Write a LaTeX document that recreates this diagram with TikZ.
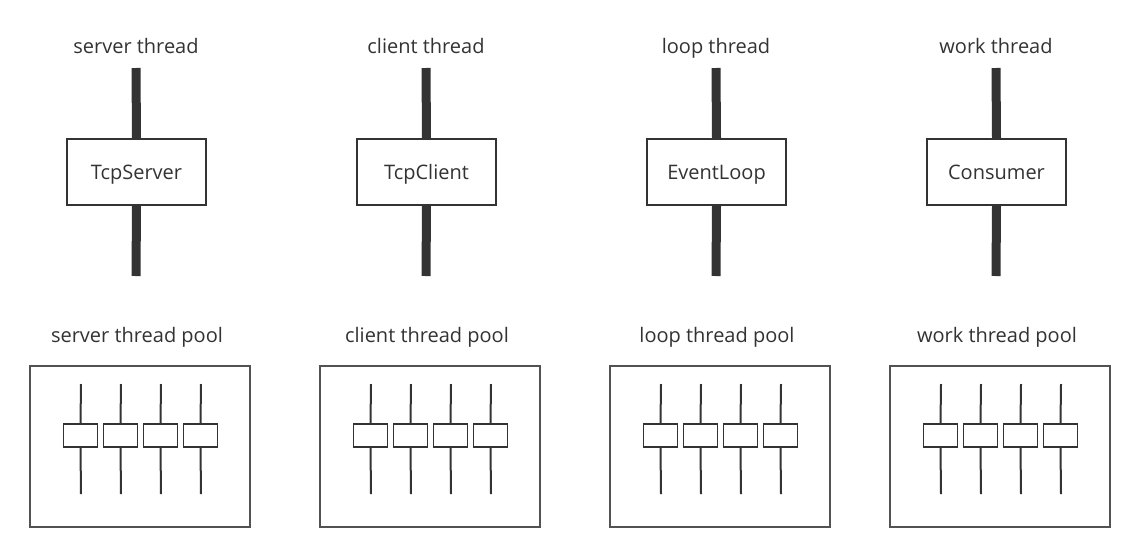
\documentclass[tikz,border=0pt]{standalone}
\usepackage{fontspec}
\setmainfont{Open Sans}
\begin{document}
\begin{tikzpicture}[x=1pt,y=-1pt,
  every node/.style={text=ink,font=\fontsize{20}{22}\selectfont},
  bigbox/.style={draw=ink,line width=1.3pt,fill=white,minimum width=139pt,minimum height=66pt,inner sep=0pt,text height=16.5pt,text depth=1.5pt},
  poolbox/.style={draw=ink!85,line width=1.8pt,fill=white,minimum width=220pt,minimum height=161pt,inner sep=0pt},
  smallbox/.style={draw=ink,line width=1.5pt,fill=white,minimum width=34pt,minimum height=23pt,inner sep=0pt},
  bar/.style={draw=ink,line width=9pt},
  thin/.style={draw=ink,line width=2pt},
  lbl/.style={inner sep=0pt,anchor=center,text height=16.5pt,text depth=1.5pt}]
\definecolor{ink}{HTML}{333333}
\useasboundingbox (0,0) rectangle (1135,552);
\fill[white] (0,0) rectangle (1135,552);
\foreach \cx/\title/\name/\pool/\px [count=\i] in {136/server thread/TcpServer/server thread pool/140, 426/client thread/TcpClient/client thread pool/430, 716/loop thread/EventLoop/loop thread pool/720, 996/work thread/Consumer/work thread pool/1000}{
  \node[lbl] (t\i) at (\cx,46) {\title};
  \coordinate (bt\i) at (\cx,68);
  \coordinate (bb\i) at (\cx,276);
  \node[bigbox] (b\i) at (\cx+0.5,172) {\name};
  \draw[bar] (bt\i) -- (b\i.north);
  \draw[bar] (b\i.south) -- (bb\i);
  \node[lbl] (pl\i) at (\px-3,335) {\pool};
  \node[poolbox] (p\i) at (\px,446.5) {};
  \foreach \dx [count=\j] in {-59,-19,21,61}{
    \coordinate (lt\i\j) at (\px+\dx,384);
    \coordinate (lb\i\j) at (\px+\dx,494);
    \node[smallbox] (s\i\j) at (\px+\dx-0.5,435.5) {};
    \draw[thin] (lt\i\j) -- (s\i\j.north);
    \draw[thin] (s\i\j.south) -- (lb\i\j);
  }
}
\end{tikzpicture}
\end{document}
